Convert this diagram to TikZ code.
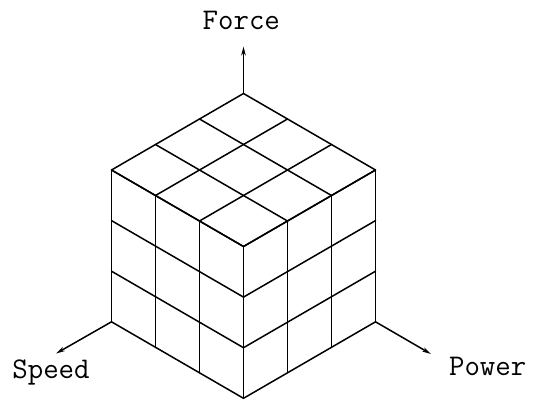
\documentclass[tikz,border=0pt]{standalone}
\usetikzlibrary{arrows.meta,calc}
\begin{document}
\begin{tikzpicture}[x=1pt,y=-1pt,
  edge/.style={line width=1.5pt, line cap=round, line join=round},
  axis/.style={line width=1.5pt, -{Stealth[length=9pt,width=4.5pt]}},
  lbl/.style={font=\fontsize{30}{32}\selectfont\ttfamily, anchor=base, inner sep=0pt}]
\useasboundingbox (0,0) rectangle (534,399);
% corners
\coordinate (T) at (243.5,93.5);
\coordinate (LB) at (111.5,321.8);
\coordinate (RB) at (375.5,321.8);
\coordinate (eF) at (243.5,46.5);
\coordinate (eS) at (56,353.5);
\coordinate (eP) at (431,354);
% grid of the cube
\foreach \i in {0,...,3}{
  \pgfmathsetmacro\ax{243.5-44*\i}
  \pgfmathsetmacro\bx{243.5+44*\i}
  \pgfmathsetmacro\ay{93.5+25.5*\i}
  % top face
  \draw[edge] (\ax,\ay) -- ++(132,76.5);
  \draw[edge] (\bx,\ay) -- ++(-132,76.5);
  % left face
  \pgfmathsetmacro\lx{111.5+44*\i}
  \pgfmathsetmacro\ly{170+25.5*\i}
  \draw[edge] (\lx,\ly) -- ++(0,151.8);
  \pgfmathsetmacro\hy{170+50.6*\i}
  \draw[edge] (111.5,\hy) -- ++(132,76.5);
  % right face
  \pgfmathsetmacro\rx{375.5-44*\i}
  \draw[edge] (\rx,\ly) -- ++(0,151.8);
  \draw[edge] (375.5,\hy) -- ++(-132,76.5);
}
% axes
\draw[axis] (T) -- (eF);
\draw[axis] (LB) -- (eS);
\draw[axis] (RB) -- (eP);
% labels
\node[lbl] (force) at (241.3,29.3) {Force};
\node[lbl] (speed) at (51,378.3) {Speed};
\node[lbl] (power) at (487.7,375.5) {Power};
\end{tikzpicture}
\end{document}
